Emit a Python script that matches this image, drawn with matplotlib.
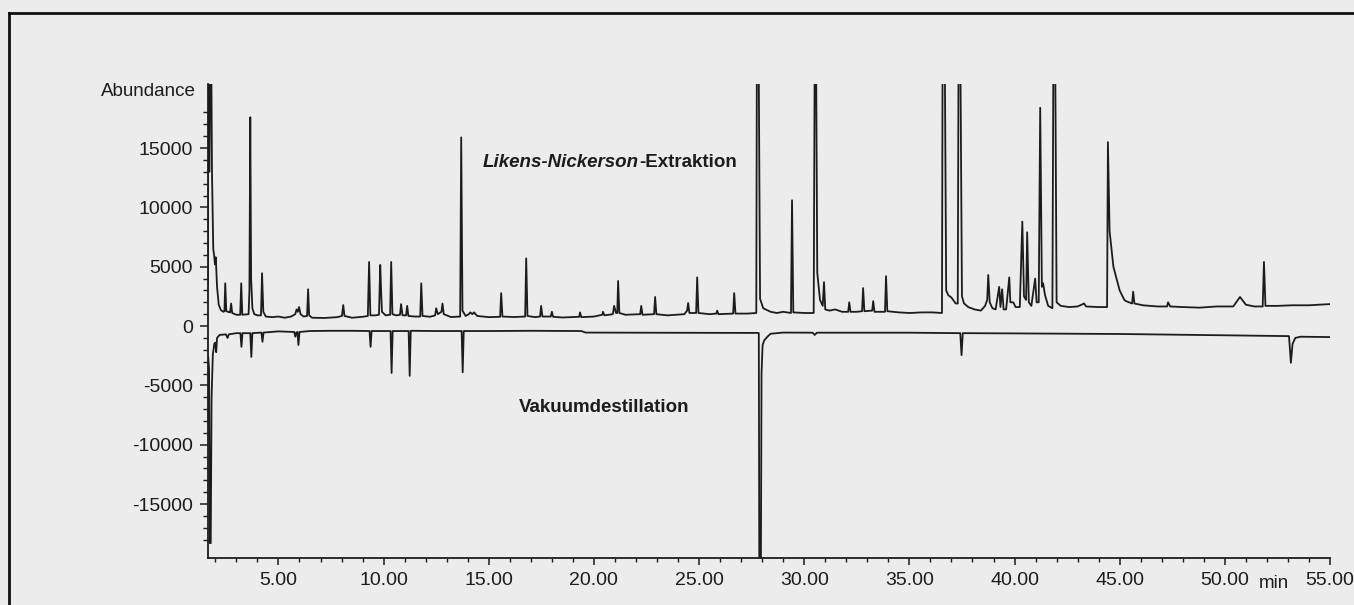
import matplotlib
matplotlib.use("Agg")
import matplotlib.pyplot as plt
from matplotlib.lines import Line2D
from matplotlib.ticker import FixedLocator, FuncFormatter

plt.rcParams["font.family"] = ["Liberation Sans", "DejaVu Sans"]
plt.rcParams["axes.unicode_minus"] = False

# Likens-Nickerson-Extraktion: (Retentionszeit min, Abundance)
ln_points = [
    (1.62, 3300), (1.64, 3600), (1.66, 24000), (1.69, 18000), (1.72, 13000),
    (1.76, 24000), (1.80, 24000), (1.84, 12900), (1.90, 6500), (1.94, 6000),
    (1.98, 5200), (2.02, 5800), (2.08, 3300), (2.16, 1800), (2.26, 1350),
    (2.38, 1200), (2.43, 1250), (2.47, 3600), (2.52, 1250), (2.70, 1150),
    (2.75, 1900), (2.80, 1100), (3.00, 950), (3.18, 950), (3.23, 3600),
    (3.28, 950), (3.58, 1000), (3.62, 3000), (3.66, 17600), (3.70, 4000),
    (3.76, 1500), (3.85, 1000), (4.00, 900), (4.17, 900), (4.22, 4450),
    (4.28, 1200), (4.40, 800), (4.70, 750), (5.00, 800), (5.30, 700),
    (5.60, 800), (5.80, 1000), (5.86, 1400), (5.92, 1200), (5.98, 1600),
    (6.05, 1000), (6.20, 800), (6.36, 850), (6.41, 3100), (6.46, 900),
    (6.60, 700), (7.20, 680), (7.80, 750), (8.02, 850), (8.08, 1770),
    (8.14, 850), (8.50, 700), (9.00, 780), (9.25, 850), (9.31, 5400),
    (9.37, 900), (9.60, 900), (9.78, 950), (9.84, 5150), (9.88, 3000),
    (9.92, 1200), (10.10, 900), (10.31, 950), (10.36, 5400), (10.42, 1000),
    (10.60, 900), (10.78, 950), (10.83, 1850), (10.90, 900), (11.07, 900),
    (11.12, 1700), (11.18, 850), (11.50, 800), (11.74, 800), (11.79, 3600),
    (11.85, 850), (12.20, 780), (12.45, 900), (12.50, 1500), (12.58, 1000),
    (12.75, 1200), (12.80, 1900), (12.86, 1000), (13.20, 760), (13.64, 800),
    (13.69, 15900), (13.75, 1300), (13.90, 850), (14.05, 1000), (14.12, 1150),
    (14.22, 1000), (14.30, 1150), (14.45, 850), (15.00, 750), (15.54, 780),
    (15.59, 2770), (15.65, 800), (16.20, 760), (16.73, 800), (16.78, 5700),
    (16.84, 850), (17.20, 750), (17.44, 800), (17.49, 1700), (17.55, 800),
    (17.95, 800), (18.00, 1200), (18.06, 780), (18.50, 720), (19.30, 780),
    (19.34, 1150), (19.40, 750), (20.00, 800), (20.40, 950), (20.43, 1200),
    (20.50, 900), (20.90, 1000), (20.96, 1700), (21.05, 1100), (21.11, 1100),
    (21.15, 3800), (21.21, 1100), (21.50, 950), (22.20, 1000), (22.25, 1700),
    (22.31, 950), (22.86, 1000), (22.91, 2450), (22.97, 1000), (23.50, 900),
    (24.30, 1000), (24.43, 1300), (24.48, 1940), (24.54, 1100), (24.86, 1100),
    (24.91, 4100), (24.97, 1100), (25.50, 1000), (25.82, 1050), (25.86, 1300),
    (25.92, 1000), (26.62, 1050), (26.67, 2770), (26.73, 1050), (27.30, 1050),
    (27.72, 1100), (27.75, 24000), (27.83, 24000), (27.90, 2300), (28.05, 1500),
    (28.40, 1200), (28.70, 1100), (29.00, 1200), (29.37, 1100), (29.42, 10600),
    (29.48, 1150), (30.00, 1100), (30.45, 1100), (30.50, 24000), (30.56, 24000),
    (30.62, 4500), (30.75, 2200), (30.88, 1700), (30.94, 3700), (31.00, 1400),
    (31.20, 1300), (31.47, 1400), (31.80, 1200), (32.09, 1200), (32.14, 2000),
    (32.20, 1200), (32.50, 1200), (32.75, 1250), (32.80, 3200), (32.86, 1250),
    (33.23, 1300), (33.28, 2100), (33.34, 1200), (33.84, 1200), (33.89, 4200),
    (33.95, 1250), (34.50, 1150), (35.00, 1100), (35.60, 1150), (36.10, 1150),
    (36.55, 1100), (36.58, 24000), (36.68, 24000), (36.75, 3000), (36.85, 2600),
    (37.00, 2400), (37.20, 1900), (37.30, 1900), (37.34, 24000), (37.42, 24000),
    (37.50, 2500), (37.60, 1900), (37.80, 1600), (38.10, 1400), (38.40, 1300),
    (38.60, 1700), (38.70, 2200), (38.75, 4300), (38.82, 2000), (38.95, 1500),
    (39.10, 1400), (39.27, 3300), (39.33, 1600), (39.41, 3100), (39.48, 1400),
    (39.60, 1400), (39.75, 4100), (39.80, 2000), (39.94, 2000), (40.05, 1600),
    (40.25, 1600), (40.37, 8800), (40.45, 2500), (40.55, 2200), (40.60, 7900),
    (40.68, 2000), (40.80, 1700), (40.98, 4000), (41.05, 2000), (41.15, 2000),
    (41.22, 18400), (41.30, 3300), (41.36, 3600), (41.45, 2600), (41.60, 1700),
    (41.80, 1500), (41.85, 24000), (41.93, 24000), (42.00, 2000), (42.20, 1700),
    (42.60, 1600), (43.00, 1650), (43.31, 1900), (43.40, 1650), (44.00, 1600),
    (44.40, 1600), (44.44, 15500), (44.52, 8000), (44.70, 5000), (45.00, 3000),
    (45.22, 2200), (45.30, 2100), (45.59, 1900), (45.64, 2900), (45.70, 1900),
    (46.10, 1750), (46.80, 1650), (47.25, 1650), (47.30, 2000), (47.40, 1650),
    (48.00, 1600), (48.80, 1550), (49.60, 1650), (50.40, 1650), (50.72, 2450),
    (51.00, 1800), (51.40, 1650), (51.80, 1650), (51.86, 5400), (51.93, 1700),
    (52.50, 1700), (53.20, 1750), (54.00, 1750), (55.00, 1850),
]

# Vakuumdestillation (nach unten gespiegelt)
vd_points = [
    (1.62, -3100), (1.66, -2600), (1.70, -3600), (1.74, -18300), (1.78, -18300),
    (1.82, -6000), (1.88, -2400), (1.95, -1500), (2.00, -1400), (2.04, -2200),
    (2.08, -1000), (2.20, -750), (2.50, -700), (2.58, -1000), (2.64, -700),
    (3.00, -600), (3.19, -600), (3.24, -1750), (3.29, -600), (3.66, -600),
    (3.71, -2600), (3.76, -600), (4.19, -550), (4.24, -1330), (4.29, -550),
    (5.00, -450), (5.75, -500), (5.80, -900), (5.85, -550), (5.90, -500),
    (5.95, -1600), (6.00, -500), (6.50, -420), (7.50, -400), (8.50, -400),
    (9.33, -420), (9.38, -1750), (9.43, -420), (10.33, -420), (10.38, -3950),
    (10.43, -420), (11.19, -420), (11.24, -4200), (11.29, -400), (12.50, -420),
    (13.71, -420), (13.76, -3900), (13.81, -420), (15.00, -420), (17.00, -400),
    (19.40, -420), (19.60, -550), (22.00, -560), (25.00, -570), (27.80, -580),
    (27.84, -600), (27.87, -25000), (27.93, -25000), (27.97, -4000), (28.02, -1600),
    (28.10, -1200), (28.25, -900), (28.40, -650), (29.00, -550), (30.40, -560),
    (30.50, -750), (30.60, -560), (33.00, -560), (35.00, -560), (37.42, -600),
    (37.48, -2450), (37.54, -600), (40.00, -620), (45.00, -670), (50.00, -780),
    (53.05, -850), (53.14, -3100), (53.22, -1500), (53.35, -1000), (53.60, -900),
    (55.00, -930),
]

ln_t, ln_y = zip(*ln_points)
vd_t, vd_y = zip(*vd_points)

y_major = [-15000, -10000, -5000, 0, 5000, 10000, 15000]
x_major = [5, 10, 15, 20, 25, 30, 35, 40, 45, 50, 55]

bg = "#ececec"
ink = "#1c1c1c"

fig = plt.figure(figsize=(13.54, 6.05), dpi=100, facecolor=bg)
ax = fig.add_axes([208 / 1354, 1 - 558 / 605, 1122 / 1354, 474 / 605])
ax.set_facecolor("none")

ax.plot(ln_t, ln_y, color=ink, lw=1.3)
ax.plot(vd_t, vd_y, color=ink, lw=1.3)

ax.set_xlim(1.65, 55.0)
ax.set_ylim(-19550, 20400)

for s in ["top", "right"]:
    ax.spines[s].set_visible(False)
for s in ["left", "bottom"]:
    ax.spines[s].set_linewidth(1.3)
    ax.spines[s].set_color(ink)

ax.yaxis.set_major_locator(FixedLocator(y_major))
ax.yaxis.set_minor_locator(FixedLocator(range(-18000, 19000, 1000)))
ax.yaxis.set_major_formatter(FuncFormatter(lambda v, p: str(int(v))))
ax.xaxis.set_major_locator(FixedLocator(x_major))
ax.xaxis.set_minor_locator(FixedLocator(range(2, 55)))
ax.xaxis.set_major_formatter(FuncFormatter(lambda v, p: "%.2f" % v))

ax.tick_params(axis="both", which="major", labelsize=14, colors=ink, width=1.1)
ax.tick_params(axis="y", which="major", length=6, pad=5)
ax.tick_params(axis="y", which="minor", length=3.5, width=1.0, colors=ink)
ax.tick_params(axis="x", which="major", length=5, pad=5)
ax.tick_params(axis="x", which="minor", length=3, width=1.0, colors=ink)

# Beschriftungen
t1 = ax.text(14.73, 13800, "Likens-Nickerson", fontsize=13.5, fontweight="bold",
             fontstyle="italic", va="center", ha="left", color=ink)
ax.annotate("-Extraktion", xy=(1, 0.5), xycoords=t1, fontsize=13.5,
            fontweight="bold", va="center", ha="left", color=ink)
ax.text(16.45, -6900, "Vakuumdestillation", fontsize=13.5, fontweight="bold",
        va="center", ha="left", color=ink)

fig.text(196 / 1354, 1 - 91 / 605, "Abundance", fontsize=13.5, ha="right",
         va="center", color=ink)
fig.text(1274 / 1354, 1 - 583 / 605, "min", fontsize=13.5, ha="center",
         va="center", color=ink)

# Rahmen des Scans (links und oben)
fig.add_artist(Line2D([9 / 1354, 9 / 1354], [0, 1 - 13 / 605], color="#111111",
                      lw=2, transform=fig.transFigure))
fig.add_artist(Line2D([9 / 1354, 1], [1 - 13 / 605, 1 - 13 / 605], color="#111111",
                      lw=2, transform=fig.transFigure))

fig.savefig("out.png", dpi=100, facecolor=bg)
